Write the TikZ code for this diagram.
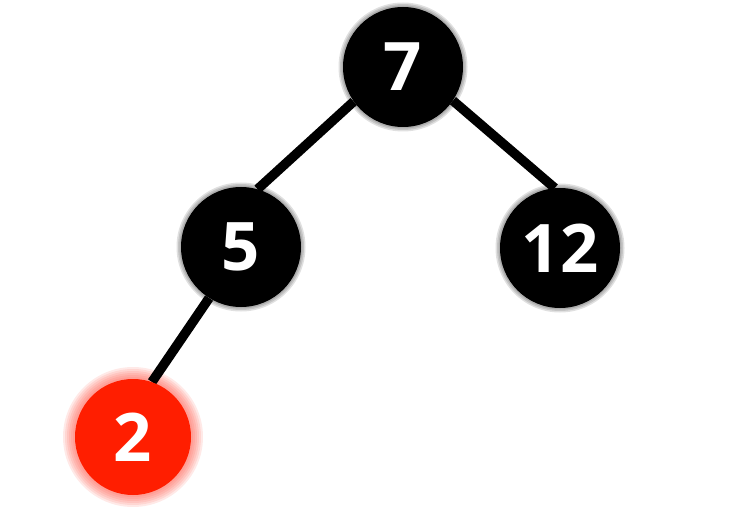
\documentclass[tikz,border=0pt]{standalone}
\usepackage{fontspec}
\setmainfont{Open Sans}
\usepackage{tikz}
\usetikzlibrary{positioning,backgrounds}
\definecolor{rbRed}{HTML}{FF1E00}
\definecolor{rbGlow}{HTML}{FF4A3A}

\begin{document}
\begin{tikzpicture}[x=1pt,y=1pt,
    font=\fontsize{67}{67}\selectfont\bfseries,
    blacknode/.style={circle,fill=black,text=white,minimum size=120pt,inner sep=0pt},
    rednode/.style={circle,fill=rbRed,text=white,minimum size=116pt,inner sep=0pt},
    edge/.style={line width=9.5pt,black,line cap=butt}]
  \useasboundingbox (0,0) rectangle (744,531);
  % tree nodes
  \node[blacknode] (n7)  at (403,464) {7};
  \node[blacknode] (n5)  at (241,284) {5};
  \node[blacknode] (n12) at (560,283) {12};
  \node[rednode]   (n2)  at (133,94)  {2};
  \begin{scope}[on background layer]
    % soft halos
    \foreach \n in {n7,n5,n12}
      \foreach \r in {61.5,63,64.5}
        \fill[black,opacity=0.12] (\n) circle (\r pt);
    \foreach \r in {60,62,64,66,68,70}
      \fill[rbGlow,opacity=0.12] (n2) circle (\r pt);
    % links
    \draw[edge] (n7.215) -- (n5.74);
    \draw[edge] (n7.-34) -- (n12.95);
    \draw[edge] (n5.238) -- (n2.71);
  \end{scope}
\end{tikzpicture}
\end{document}
